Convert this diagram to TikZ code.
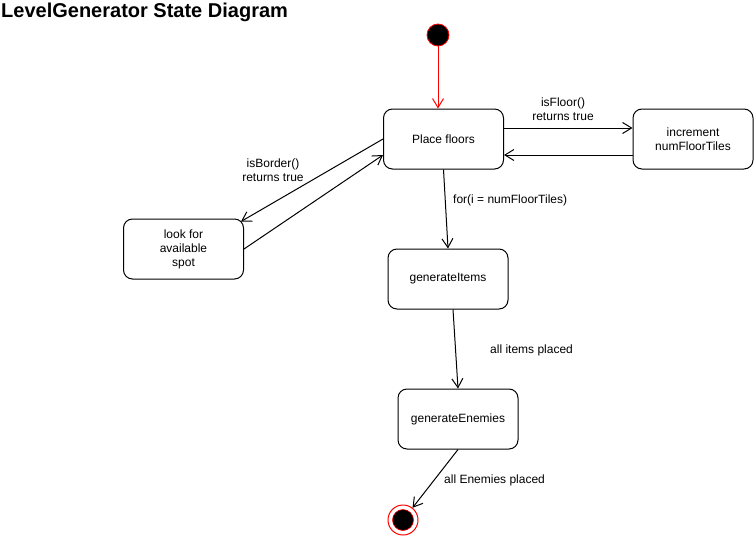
\documentclass[tikz,border=0pt]{standalone}
\usepackage{fontspec}
\setmainfont{Liberation Sans}
\usetikzlibrary{arrows.meta}
\begin{document}
\begin{tikzpicture}[x=1pt,y=-1pt,
  every node/.style={font=\fontsize{12}{14}\selectfont},
  statebox/.style={draw=black,line width=1pt,rounded corners=9pt,minimum width=120pt,minimum height=60pt,inner sep=0pt,align=center,fill=white},
  initstate/.style={circle,draw=red,fill=black,line width=0.8pt,minimum size=22pt,inner sep=0pt},
  finstate/.style={circle,draw=red,fill=white,line width=1pt,minimum size=30pt,inner sep=0pt},
  trans/.style={draw=black,line width=1pt,-{Straight Barb[length=9pt,width=11pt,line width=1pt]}},
  redtrans/.style={trans,draw=red},
  lbl/.style={inner sep=0pt,align=center}]
\useasboundingbox (0,0) rectangle (754,535);
\node[anchor=west,inner sep=0pt,font=\fontsize{20}{24}\selectfont\bfseries] (title) at (1,12) {LevelGenerator State Diagram};

\node[initstate] (init) at (438,35) {};
\node[statebox] (pf) at (443.5,139) {Place floors};
\node[statebox] (inc) at (693,139) {increment\\numFloorTiles};
\node[statebox] (look) at (183.5,249) {look for\\available\\spot};
\node[statebox] (gi) at (448,279) {generateItems};
\node[statebox] (ge) at (458,419) {generateEnemies};
\node[finstate] (fin) at (403,520) {};
\node[circle,fill=black,draw=red,line width=0.6pt,minimum size=21pt,inner sep=0pt] (finc) at (fin) {};

\draw[redtrans] (init.south) -- (init.south |- pf.north);
\draw[trans] ([yshift=11pt]pf.east) -- ([yshift=11pt]inc.west);
\draw[trans] ([yshift=-16pt]inc.west) -- ([yshift=-16pt]pf.east);
\draw[trans] (pf.west) -- ([xshift=-3pt,yshift=-3pt]look.north east);
\draw[trans] (look.east) -- ([yshift=-16pt]pf.west);
\draw[trans] (pf.south) -- (gi.north);
\draw[trans] ([xshift=5pt]gi.south) -- (ge.north);
\draw[trans] (ge.south) -- (fin);

\node[lbl] (l1) at (563,109.5) {isFloor()\\returns true};
\node[lbl] (l2) at (273,170) {isBorder()\\returns true};
\node[lbl,anchor=west] (l3) at (453,200) {for(i = numFloorTiles)};
\node[lbl,anchor=west] (l4) at (490,350) {all items placed};
\node[lbl,anchor=west] (l5) at (444,480) {all Enemies placed};
\end{tikzpicture}
\end{document}
